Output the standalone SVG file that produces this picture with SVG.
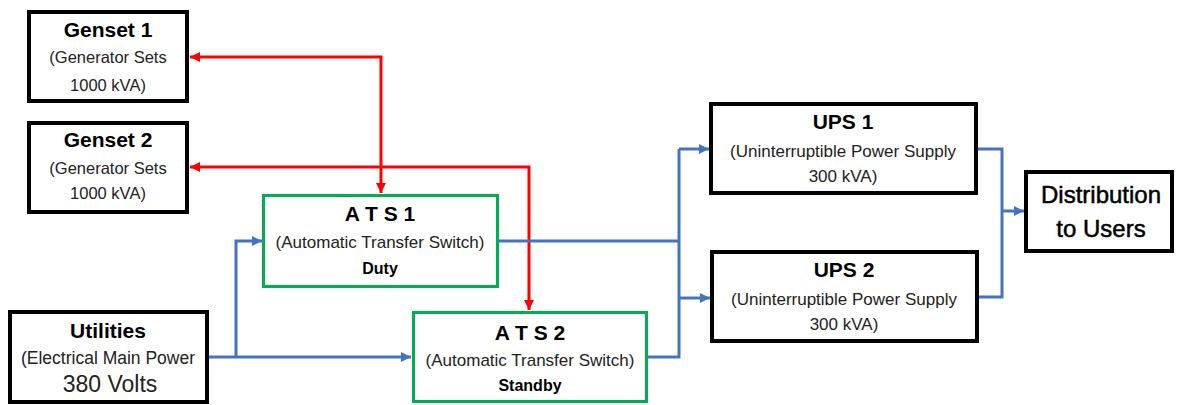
<svg xmlns="http://www.w3.org/2000/svg" width="1177" height="405" viewBox="0 0 1177 405">
<style>
.box{fill:#fff;stroke:#000;stroke-width:4}
.gbox{fill:#fff;stroke:#00B050;stroke-width:3}
.t{font-family:"Liberation Sans",Arial,sans-serif;font-weight:bold;font-size:21px;fill:#000;text-anchor:middle}
.s{font-family:"Liberation Sans",Arial,sans-serif;font-size:17px;fill:#222;text-anchor:middle}
.b{font-family:"Liberation Sans",Arial,sans-serif;font-weight:bold;font-size:16px;fill:#000;text-anchor:middle}
.d{font-family:"Liberation Sans",Arial,sans-serif;font-size:24px;fill:#000;stroke:#000;stroke-width:0.5;text-anchor:middle}
.red{fill:none;stroke:#FF0000;stroke-width:3}
.blue{fill:none;stroke:#4472C4;stroke-width:3}
</style>
<defs>
<marker id="ar" markerUnits="userSpaceOnUse" markerWidth="10" markerHeight="10" refX="10" refY="5" orient="auto-start-reverse"><path d="M0,0 L10,5 L0,10 z" fill="#FF0000"/></marker>
<marker id="ab" markerUnits="userSpaceOnUse" markerWidth="10" markerHeight="10" refX="10" refY="5" orient="auto"><path d="M0,0 L10,5 L0,10 z" fill="#4472C4"/></marker>
</defs>
<g id="connectors">
<path class="red" d="M381,193 V57 H190" marker-start="url(#ar)" marker-end="url(#ar)"/>
<path class="red" d="M529,310 V167 H190" marker-start="url(#ar)" marker-end="url(#ar)"/>
<path class="blue" d="M209,357 H411" marker-end="url(#ab)"/>
<path class="blue" d="M236,357 V241 H262" marker-end="url(#ab)"/>
<path class="blue" d="M499,241 H679"/>
<path class="blue" d="M648,357 H679 V149"/>
<path class="blue" d="M679,149 H709" marker-end="url(#ab)"/>
<path class="blue" d="M679,298 H710" marker-end="url(#ab)"/>
<path class="blue" d="M978,149 H1002 V297 H979"/>
<path class="blue" d="M1002,211 H1024" marker-end="url(#ab)"/>
</g>
<g id="genset1">
<rect class="box" x="29" y="12" width="158" height="89"/>
<text class="t" x="108" y="37">Genset 1</text>
<text class="s" x="108" y="63" style="font-size:16.5px">(Generator Sets</text>
<text class="s" x="108" y="91" style="font-size:16.5px">1000 kVA)</text>
</g>
<g id="genset2">
<rect class="box" x="29" y="123" width="158" height="89"/>
<text class="t" x="108" y="147">Genset 2</text>
<text class="s" x="108" y="174" style="font-size:16.5px">(Generator Sets</text>
<text class="s" x="108" y="199" style="font-size:16.5px">1000 kVA)</text>
</g>
<g id="ats1">
<rect class="gbox" x="263.5" y="195.5" width="234" height="91"/>
<text class="t" x="380" y="220.5">A T S 1</text>
<text class="s" x="380" y="248">(Automatic Transfer Switch)</text>
<text class="b" x="380" y="274">Duty</text>
</g>
<g id="ats2">
<rect class="gbox" x="413.5" y="312.5" width="233" height="89"/>
<text class="t" x="530" y="339.5">A T S 2</text>
<text class="s" x="530" y="366">(Automatic Transfer Switch)</text>
<text class="b" x="530" y="391">Standby</text>
</g>
<g id="utilities">
<rect class="box" x="10" y="312" width="197" height="90"/>
<text class="t" x="108" y="337.5">Utilities</text>
<text class="s" x="108" y="364" style="font-size:17.5px">(Electrical Main Power</text>
<text class="s" x="110" y="392" style="font-size:23px">380 Volts</text>
</g>
<g id="ups1">
<rect class="box" x="711" y="104" width="265" height="89"/>
<text class="t" x="843" y="129">UPS 1</text>
<text class="s" x="843" y="157">(Uninterruptible Power Supply</text>
<text class="s" x="843" y="182">300 kVA)</text>
</g>
<g id="ups2">
<rect class="box" x="712" y="252" width="265" height="89"/>
<text class="t" x="844" y="277">UPS 2</text>
<text class="s" x="844" y="305">(Uninterruptible Power Supply</text>
<text class="s" x="844" y="330">300 kVA)</text>
</g>
<g id="distribution">
<rect class="box" x="1026" y="172" width="146" height="79"/>
<text class="d" x="1101" y="203">Distribution</text>
<text class="d" x="1101" y="237">to Users</text>
</g>
</svg>
